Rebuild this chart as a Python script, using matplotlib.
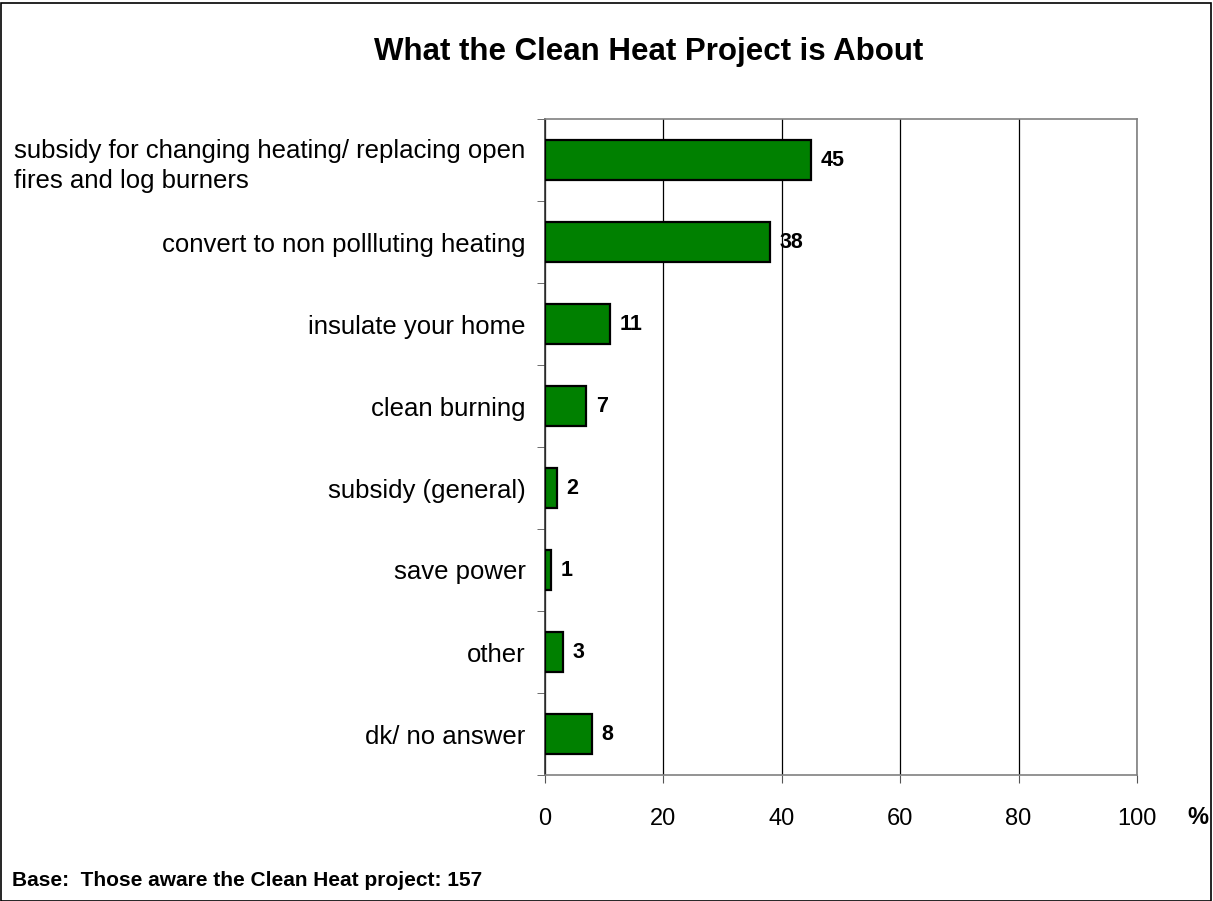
import numpy as np
import matplotlib.pyplot as plt
from matplotlib.patches import Rectangle

plt.rcParams['font.family'] = ['Liberation Sans', 'DejaVu Sans']

categories = ['subsidy for changing heating/ replacing open\nfires and log burners',
              'convert to non pollluting heating',
              'insulate your home',
              'clean burning',
              'subsidy (general)',
              'save power',
              'other',
              'dk/ no answer']
values = [45, 38, 11, 7, 2, 1, 3, 8]
x_ticks = [0, 20, 40, 60, 80, 100]

fig = plt.figure(figsize=(12.13, 9.01), dpi=100)
ax = fig.add_axes([545 / 1213, 1 - 775 / 901, 592 / 1213, 656 / 901])

pos = np.arange(len(categories))
ax.barh(pos, values, height=0.49, color='#008000', edgecolor='black', linewidth=1.6, zorder=3)
for p, v in zip(pos, values):
    ax.text(v + 1.6, p, str(v), va='center', ha='left', fontsize=15.5, fontweight='bold', zorder=4)

ax.set_xlim(0, 100)
ax.set_ylim(len(categories) - 0.5, -0.5)
ax.set_xticks(x_ticks)
ax.set_xticklabels([str(t) for t in x_ticks], fontsize=17)
ax.set_yticks(pos)
ax.set_yticklabels(categories, fontsize=18.5, linespacing=1.35)
ax.set_yticks(np.arange(-0.5, len(categories), 1), minor=True)
ax.tick_params(axis='y', which='major', length=0, pad=14)
ax.tick_params(axis='y', which='minor', length=6, direction='out', color='#555555')
ax.tick_params(axis='x', length=6, direction='out', color='#555555', pad=18)
for lab in ax.get_yticklabels():
    lab.set_horizontalalignment('right')
    lab.set_multialignment('left')
ax.xaxis.grid(True, color='black', linewidth=0.9, zorder=0)

for side in ['top', 'right', 'bottom']:
    ax.spines[side].set_color('#808080')
    ax.spines[side].set_linewidth(1.2)
ax.spines['left'].set_color('#333333')
ax.spines['left'].set_linewidth(1.2)

fig.text(649 / 1213, 1 - 52 / 901, 'What the Clean Heat Project is About', ha='center', va='center',
         fontsize=22.5, fontweight='bold')
fig.text(1198 / 1213, 1 - 817 / 901, '%', ha='center', va='center', fontsize=17, fontweight='bold')
fig.text(12 / 1213, 1 - 880 / 901, 'Base:  Those aware the Clean Heat project: 157', ha='left', va='center',
         fontsize=15, fontweight='bold')

fig.patches.append(Rectangle((0.5 / 1213, 0.5 / 901), 1210 / 1213, 898 / 901, transform=fig.transFigure,
                             fill=False, edgecolor='black', linewidth=1.2))

fig.savefig('out.png', dpi=100)
